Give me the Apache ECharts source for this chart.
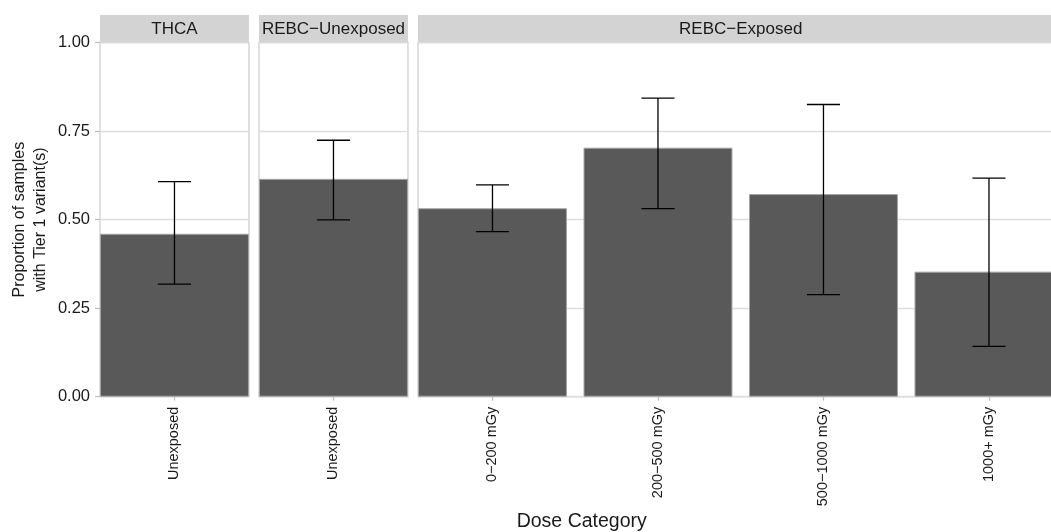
<!DOCTYPE html>
<html>
<head>
<meta charset="utf-8">
<title>Tier 1 variants by dose category</title>
<script src="https://cdn.jsdelivr.net/npm/echarts@6/dist/echarts.min.js"></script>
<style>
  html, body { margin: 0; padding: 0; background: #fff; }
  #chart { width: 1051px; height: 532px; }
</style>
</head>
<body>
<div id="chart"></div>
<script>
// Facet labels
const facetLabels = ['THCA', 'REBC\u2212Unexposed', 'REBC\u2212Exposed'];

// Categories per facet
const thcaCategories = ['Unexposed'];
const unexposedCategories = ['Unexposed'];
const exposedCategories = ['0\u2212200 mGy', '200\u2212500 mGy', '500\u22121000 mGy', '1000+ mGy'];

// Proportion of samples with Tier 1 variant(s), with confidence limits
const thcaValues = [0.460];
const thcaLower = [0.318];
const thcaUpper = [0.607];

const unexposedValues = [0.615];
const unexposedLower = [0.499];
const unexposedUpper = [0.724];

const exposedValues = [0.532, 0.703, 0.572, 0.353];
const exposedLower = [0.466, 0.531, 0.288, 0.142];
const exposedUpper = [0.598, 0.843, 0.825, 0.617];

// Y axis ticks
const yTicks = [0, 0.25, 0.5, 0.75, 1.0];

const panels = [
  { label: facetLabels[0], cats: thcaCategories, vals: thcaValues, lo: thcaLower, hi: thcaUpper },
  { label: facetLabels[1], cats: unexposedCategories, vals: unexposedValues, lo: unexposedLower, hi: unexposedUpper },
  { label: facetLabels[2], cats: exposedCategories, vals: exposedValues, lo: exposedLower, hi: exposedUpper }
];

// Layout (pixels)
const FONT = 'Liberation Sans, Arial, Helvetica, sans-serif';
const unit = 165.5;          // width of one category step
const barFrac = 0.9;         // bar width as fraction of a step
const panelLefts = [100, 259, 418];
const panelTop = 42.5;
const panelBottom = 396.7;
const panelHeight = panelBottom - panelTop;
const stripTop = 15;
const stripHeight = panelTop - stripTop;

const grids = [], xAxes = [], yAxes = [], series = [], graphics = [];

// frame grids (panel background, border, gridlines, y axis): indices 0..2
panels.forEach((p, i) => {
  const frameW = (p.cats.length - 1 + barFrac) * unit;
  grids.push({
    left: panelLefts[i], top: panelTop, width: frameW, height: panelHeight,
    outerBoundsMode: 'none', containLabel: false,
    show: true, backgroundColor: '#ffffff', borderColor: '#d6d6d6', borderWidth: 1.5, z: 0
  });
  xAxes.push({ type: 'value', gridIndex: i, show: false, min: 0, max: 1 });
  yAxes.push({
    type: 'value', gridIndex: i, min: yTicks[0], max: yTicks[yTicks.length - 1], interval: 0.25,
    axisLine: { show: false },
    axisTick: { show: i === 0, length: 5, lineStyle: { color: '#bdbdbd', width: 1.2 } },
    axisLabel: {
      show: i === 0, margin: 10, fontSize: 16.5, color: '#1a1a1a', fontFamily: FONT,
      formatter: v => v.toFixed(2)
    },
    splitLine: { show: true, lineStyle: { color: '#dedede', width: 1.3 } },
    name: i === 0 ? 'Proportion of samples\nwith Tier 1 variant(s)' : '',
    nameLocation: 'middle', nameRotate: 90, nameGap: 49,
    nameTextStyle: { fontSize: 16, color: '#1a1a1a', fontFamily: FONT, lineHeight: 21 }
  });

  // strip
  graphics.push({
    type: 'rect', z: 10,
    shape: { x: panelLefts[i], y: stripTop, width: frameW, height: stripHeight },
    style: { fill: '#d3d3d3' }
  });
  graphics.push({
    type: 'text', z: 11,
    x: panelLefts[i] + frameW / 2, y: stripTop + stripHeight / 2 + 0.5,
    style: { text: p.label, align: 'center', verticalAlign: 'middle', fontSize: 17, fill: '#1a1a1a', fontFamily: FONT }
  });
});

// data grids: indices 3..5, one step per category so bars fill 0.9 of a step
panels.forEach((p, i) => {
  const gi = i + 3;
  grids.push({
    left: panelLefts[i] - (1 - barFrac) / 2 * unit, top: panelTop,
    width: p.cats.length * unit, height: panelHeight,
    outerBoundsMode: 'none', containLabel: false, show: false
  });
  xAxes.push({
    type: 'category', gridIndex: gi, data: p.cats,
    axisLine: { show: false },
    axisTick: { show: true, alignWithLabel: true, length: 4, lineStyle: { color: '#bdbdbd', width: 1.2 } },
    axisLabel: { rotate: 90, margin: 10, fontSize: 14.5, color: '#1a1a1a', fontFamily: FONT },
    splitLine: { show: false }
  });
  yAxes.push({ type: 'value', gridIndex: gi, min: 0, max: 1, show: false, splitLine: { show: false } });

  series.push({
    type: 'bar', xAxisIndex: gi, yAxisIndex: gi,
    data: p.vals, barWidth: (barFrac * 100) + '%',
    itemStyle: { color: '#595959', borderColor: '#a3a3a3', borderWidth: 1 },
    silent: true, z: 2
  });
  series.push({
    type: 'custom', xAxisIndex: gi, yAxisIndex: gi, z: 3, silent: true,
    data: p.cats.map((c, k) => [k, p.lo[k], p.hi[k]]),
    encode: { x: 0, y: [1, 2] },
    renderItem: (params, api) => {
      const k = api.value(0);
      const lo = api.coord([k, api.value(1)]);
      const hi = api.coord([k, api.value(2)]);
      const half = api.size([1, 0])[0] * 0.1;
      const st = { stroke: '#000', lineWidth: 1.3 };
      return {
        type: 'group', children: [
          { type: 'line', shape: { x1: lo[0], y1: lo[1], x2: hi[0], y2: hi[1] }, style: st },
          { type: 'line', shape: { x1: lo[0] - half, y1: lo[1], x2: lo[0] + half, y2: lo[1] }, style: st },
          { type: 'line', shape: { x1: hi[0] - half, y1: hi[1], x2: hi[0] + half, y2: hi[1] }, style: st }
        ]
      };
    }
  });
});

// x axis title, centred on the full facet span
const lastW = (exposedCategories.length - 1 + barFrac) * unit;
graphics.push({
  type: 'text', z: 11,
  x: (panelLefts[0] + panelLefts[2] + lastW) / 2, y: 521.5,
  style: { text: 'Dose Category', align: 'center', verticalAlign: 'middle', fontSize: 19.5, fill: '#1a1a1a', fontFamily: FONT }
});

const chart = echarts.init(document.getElementById('chart'), null, { renderer: 'canvas' });
chart.setOption({
  animation: false,
  backgroundColor: '#ffffff',
  textStyle: { fontFamily: FONT },
  grid: grids,
  xAxis: xAxes,
  yAxis: yAxes,
  series: series,
  graphic: graphics
});
</script>
</body>
</html>
